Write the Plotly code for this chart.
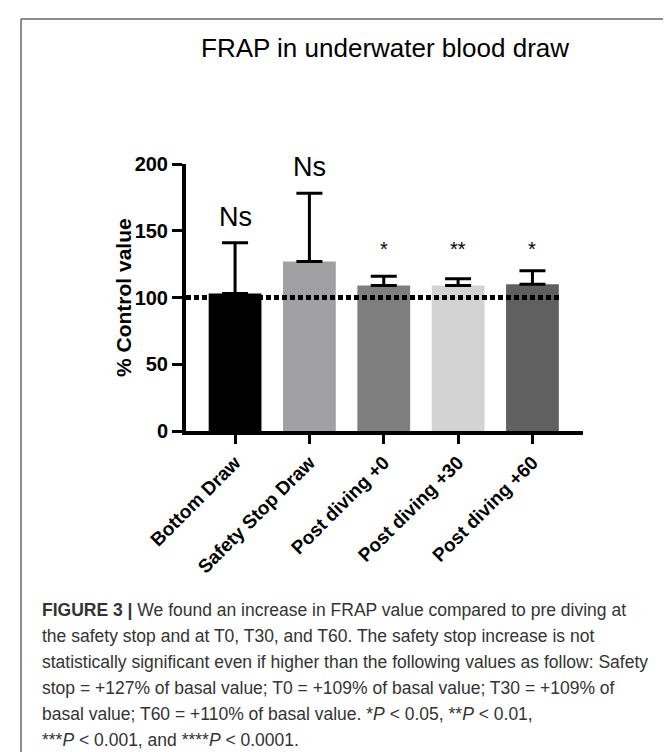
import plotly.graph_objects as go

# ---------------- data ----------------
categories = ["Bottom Draw", "Safety Stop Draw", "Post diving +0", "Post diving +30", "Post diving +60"]
means = [103, 127, 109, 109, 110]
sem_up = [38, 51, 7, 5, 10]
sig_labels = ["Ns", "Ns", "*", "**", "*"]
control_level = 100
y_ticks = [0, 50, 100, 150, 200]
bar_colors = ["#000000", "#a1a1a4", "#7f7f7f", "#d3d3d3", "#606060"]

title_text = "FRAP in underwater blood draw"
y_title = "% Control value"
caption_lines = [
    "<b>FIGURE 3 |</b> We found an increase in FRAP value compared to pre diving at",
    "the safety stop and at T0, T30, and T60. The safety stop increase is not",
    "statistically significant even if higher than the following values as follow: Safety",
    "stop = +127% of basal value; T0 = +109% of basal value; T30 = +109% of",
    "basal value; T60 = +110% of basal value. *<i>P</i> &lt; 0.05, **<i>P</i> &lt; 0.01,",
    "***<i>P</i> &lt; 0.001, and ****<i>P</i> &lt; 0.0001.",
]

# ---------------- layout geometry (pixels) ----------------
W, H = 671, 752
PL, PR, PT, PB = 178, 575, 156, 423  # plot area edges
pw, ph = PR - PL, PB - PT

def px_x(px):
    return (px - PL) / pw

def px_y(py):
    return (PB - py) / ph

FONT = "Liberation Sans, Arial, sans-serif"

fig = go.Figure()
x_idx = list(range(len(categories)))
fig.add_trace(go.Bar(
    x=x_idx, y=means,
    marker=dict(color=bar_colors, line=dict(width=0)),
    width=0.71,
    error_y=dict(type="data", symmetric=False, array=sem_up,
                 arrayminus=[0] * len(means), color="black",
                 thickness=3, width=13),
    showlegend=False,
    hoverinfo="skip",
))

# dotted control line
fig.add_shape(type="line", xref="x", yref="y",
              x0=-0.66, x1=4.37, y0=control_level, y1=control_level,
              line=dict(color="black", width=5, dash="5px,3px"), layer="above")

# significance labels
for i, lab in enumerate(sig_labels):
    top = means[i] + sem_up[i]
    if lab == "Ns":
        fig.add_annotation(x=i, y=top, yref="y", xref="x", text=lab,
                           showarrow=False, yanchor="bottom", yshift=9,
                           font=dict(family=FONT, size=27, color="black"))
    else:
        fig.add_annotation(x=i, y=136, yref="y", xref="x", text=lab,
                           showarrow=False, yanchor="middle",
                           font=dict(family=FONT, size=20, color="black"))

# title
fig.add_annotation(x=px_x(376.5), y=px_y(40), xref="paper", yref="paper",
                   text=title_text, showarrow=False, xanchor="center", yanchor="middle",
                   font=dict(family=FONT, size=26, color="black"))

# y-axis title
fig.add_annotation(x=px_x(115), y=px_y(290), xref="paper", yref="paper",
                   text=f"<b>{y_title}</b>", showarrow=False, textangle=-90,
                   xanchor="center", yanchor="middle",
                   font=dict(family=FONT, size=21, color="black"))

# caption
cap_y = [602, 628, 654, 680, 706, 732]
for line, cy in zip(caption_lines, cap_y):
    fig.add_annotation(x=px_x(32), y=px_y(cy), xref="paper", yref="paper",
                       text=line, showarrow=False, xanchor="left", yanchor="middle",
                       font=dict(family=FONT, size=17.5, color="#333333"))

# frame lines (top and left)
fig.add_shape(type="line", xref="paper", yref="paper",
              x0=px_x(13), x1=px_x(680), y0=px_y(11), y1=px_y(11),
              line=dict(color="#666666", width=1.5), layer="below")
fig.add_shape(type="line", xref="paper", yref="paper",
              x0=px_x(13), x1=px_x(13), y0=px_y(11), y1=px_y(760),
              line=dict(color="#666666", width=1.5), layer="below")

fig.update_layout(
    width=W, height=H,
    margin=dict(l=PL, r=W - PR, t=PT, b=H - PB, pad=0),
    paper_bgcolor="white", plot_bgcolor="white",
    font=dict(family=FONT, color="black"),
    bargap=0.29,
)
fig.update_xaxes(
    range=[-0.66, 4.68], tickmode="array", tickvals=x_idx,
    ticktext=[f"<b>{c}</b>" for c in categories],
    tickangle=-45, tickfont=dict(family=FONT, size=19, color="black"),
    showline=True, linecolor="black", linewidth=4,
    ticks="outside", ticklen=9, tickwidth=3, tickcolor="black",
    showgrid=False, zeroline=False, fixedrange=True,
)
fig.update_yaxes(
    range=[0, 200], tickmode="array", tickvals=y_ticks,
    ticktext=[f"<b>{t}</b>" for t in y_ticks],
    tickfont=dict(family=FONT, size=20, color="black"),
    showline=True, linecolor="black", linewidth=4,
    ticks="outside", ticklen=10, tickwidth=3, tickcolor="black",
    showgrid=False, zeroline=False, fixedrange=True,
)

fig.write_html("out.html")
